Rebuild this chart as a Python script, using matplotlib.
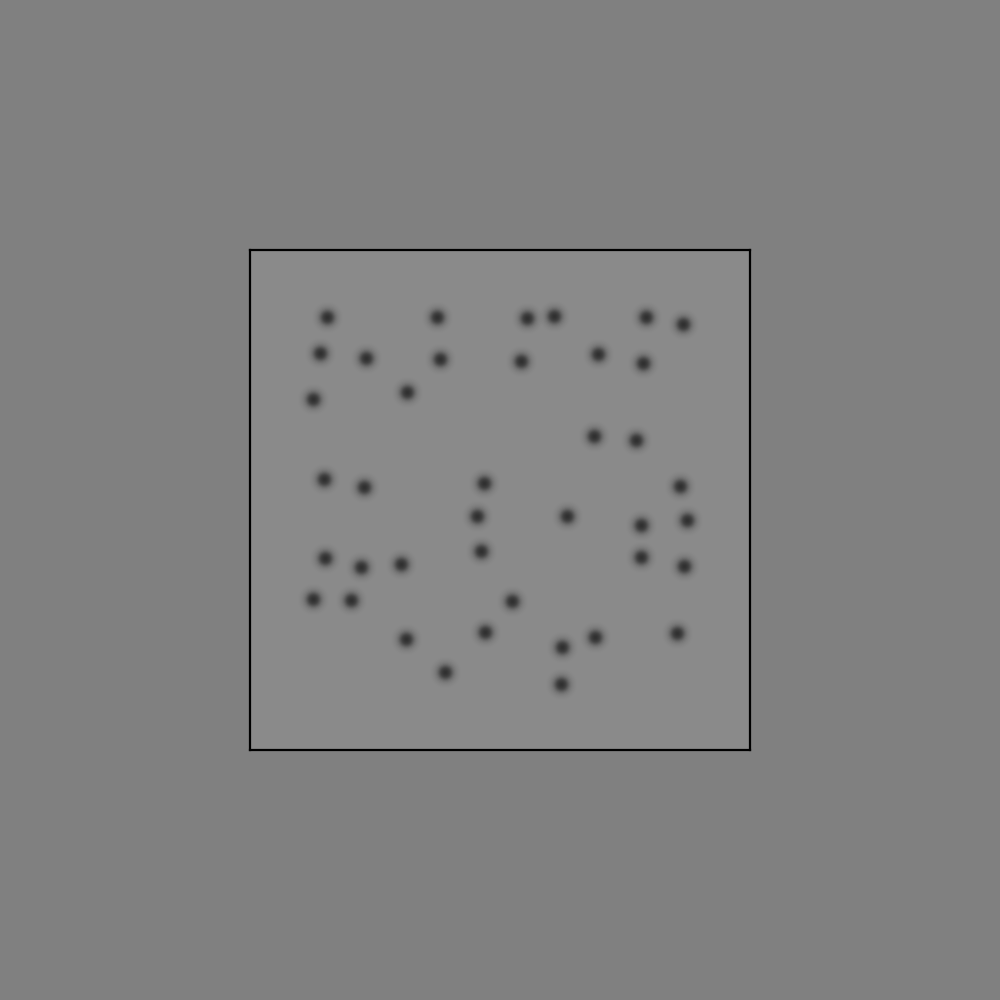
import numpy as np
import matplotlib
matplotlib.use("Agg")
import matplotlib.pyplot as plt

# point positions in axes units (0..100)
xs = [15.4, 37.4, 55.4, 60.8, 79.2, 86.6,
      14.0, 23.2, 38.0, 54.2, 69.6, 78.6,
      12.6, 31.4, 68.8, 77.2,
      14.8, 22.8, 46.8, 86.0,
      45.4, 63.4, 78.2, 87.4,
      15.0, 22.2, 30.2, 46.2, 78.2, 86.8,
      12.6, 20.2, 52.4,
      31.2, 47.0, 62.4, 69.0, 85.4,
      39.0, 62.2]
ys = [86.6, 86.6, 86.4, 86.8, 86.6, 85.2,
      79.4, 78.4, 78.2, 77.8, 79.2, 77.4,
      70.2, 71.6, 62.8, 62.0,
      54.2, 52.6, 53.4, 52.8,
      46.8, 46.8, 45.0, 46.0,
      38.4, 36.6, 37.2, 39.8, 38.6, 36.8,
      30.2, 30.0, 29.8,
      22.2, 23.6, 20.6, 22.6, 23.4,
      15.6, 13.2]

fig = plt.figure(figsize=(10, 10), dpi=100, facecolor="#808080")
ax = fig.add_axes([0.25, 0.25, 0.5, 0.5])
ax.set_facecolor("#8a8a8a")
ax.set_xlim(0, 100)
ax.set_ylim(0, 100)
ax.set_xticks([])
ax.set_yticks([])
for sp in ax.spines.values():
    sp.set_linewidth(1.6)
    sp.set_color("black")

# soft blurred dots: stacked translucent discs, smooth falloff (blurred disc)
peak, r0, w = 0.92, 6.5, 1.8     # centre coverage, half-size and edge softness in px
radii = np.arange(16.0, 0.4, -0.5)
trans = 1 - peak / (1 + np.exp((radii - r0) / w))
prev = 1.0
for r, t in zip(radii, trans):
    a = 1 - t / prev
    prev = t
    ax.scatter(xs, ys, s=(2 * r * 0.72) ** 2, color="#2a2a2a", alpha=a,
               linewidths=0, zorder=2)

fig.savefig("out.png", dpi=100, facecolor=fig.get_facecolor())
